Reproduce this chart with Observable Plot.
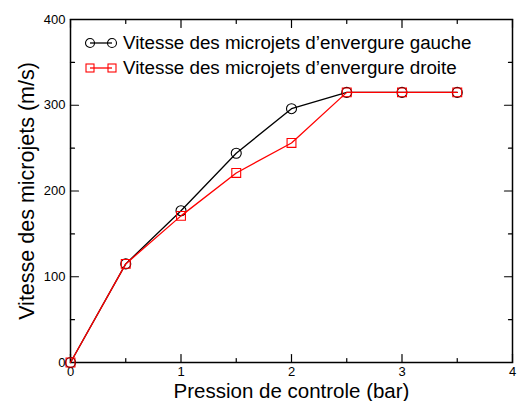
<!DOCTYPE html>
<html>
<head>
<meta charset="utf-8">
<script src="https://cdn.jsdelivr.net/npm/d3@7"></script>
<script src="https://cdn.jsdelivr.net/npm/@observablehq/plot@0.6"></script>
<style>
  body { margin: 0; background: #fff; }
  #wrap { position: relative; width: 520px; height: 401px; font-family: "Liberation Sans", Arial, sans-serif; }
  #legend { position: absolute; left: 84px; top: 30px; font-size: 18.8px; color: #000; }
  .row { display: flex; align-items: center; height: 25px; }
  .row svg { margin-right: 5px; }
</style>
</head>
<body>
<div id="wrap"><div id="legend"></div></div>
<script>
const pressure = [0, 0.5, 1, 1.5, 2, 2.5, 3, 3.5];
const leftSpeed = [0, 115, 177, 244, 296, 315, 315, 315];
const rightSpeed = [0, 115, 171, 221, 256, 315, 315, 315];
const seriesNames = ["Vitesse des microjets d\u2019envergure gauche", "Vitesse des microjets d\u2019envergure droite"];
const seriesColors = ["#000000", "#ff0000"];
const xMajor = [0, 1, 2, 3, 4];
const xMinor = [0.5, 1.5, 2.5, 3.5];
const yMajor = [0, 100, 200, 300, 400];
const yMinor = [50, 150, 250, 350];

const leftData = pressure.map((p, i) => ({x: p, y: leftSpeed[i]}));
const rightData = pressure.map((p, i) => ({x: p, y: rightSpeed[i]}));

const tickShape = { draw(context, l) { context.moveTo(0, 0); context.lineTo(0, -l); } };
const tk = (data, opts) => Plot.vector(data, {shape: tickShape, anchor: "start", stroke: "#000", strokeWidth: 1.2, ...opts});

const chart = Plot.plot({
  width: 520,
  height: 401,
  marginLeft: 70,
  marginRight: 8,
  marginTop: 19,
  marginBottom: 39,
  style: {fontFamily: "Liberation Sans, Arial, sans-serif", background: "#fff"},
  x: {domain: [0, 4]},
  y: {domain: [0, 400]},
  marks: [
    Plot.frame({stroke: "#000", strokeWidth: 1.5}),
    tk(xMajor, {x: d => d, y: 0, length: 8, rotate: 0}),
    tk(xMinor, {x: d => d, y: 0, length: 4, rotate: 0}),
    tk(xMajor, {x: d => d, y: 400, length: 8, rotate: 180}),
    tk(xMinor, {x: d => d, y: 400, length: 4, rotate: 180}),
    tk(yMajor, {x: 0, y: d => d, length: 8, rotate: 90}),
    tk(yMinor, {x: 0, y: d => d, length: 4, rotate: 90}),
    tk(yMajor, {x: 4, y: d => d, length: 8, rotate: -90}),
    tk(yMinor, {x: 4, y: d => d, length: 4, rotate: -90}),
    Plot.axisX({ticks: xMajor, tickSize: 0, tickPadding: 4, fontSize: 13, tickFormat: d3.format("d"),
      label: "Pression de controle (bar)", labelAnchor: "center", labelArrow: "none", labelOffset: 35}),
    Plot.axisY({ticks: yMajor, tickSize: 0, tickPadding: 5, fontSize: 13, tickFormat: d3.format("d"),
      label: "Vitesse des microjets (m/s)", labelAnchor: "center", labelArrow: "none", labelOffset: 52}),
    Plot.line(leftData, {x: "x", y: "y", stroke: seriesColors[0], strokeWidth: 1.3}),
    Plot.dot(leftData, {x: "x", y: "y", r: 5, stroke: seriesColors[0], fill: "none", strokeWidth: 1.1}),
    Plot.line(rightData, {x: "x", y: "y", stroke: seriesColors[1], strokeWidth: 1.3}),
    Plot.dot(rightData, {x: "x", y: "y", r: 5, symbol: "square", stroke: seriesColors[1], fill: "none", strokeWidth: 1.1})
  ]
});
d3.select(chart).selectAll("[aria-label='x-axis label'] text").style("font-size", "20.5px");
d3.select(chart).selectAll("[aria-label='y-axis label'] text").style("font-size", "21.5px");
document.getElementById("wrap").prepend(chart);

const legend = document.getElementById("legend");
seriesNames.forEach((name, i) => {
  const row = document.createElement("div");
  row.className = "row";
  const sw = i === 0
    ? `<svg width="34" height="14"><line x1="6" y1="7" x2="28" y2="7" stroke="${seriesColors[i]}" stroke-width="1.3"/><circle cx="6" cy="7" r="4.5" fill="none" stroke="${seriesColors[i]}" stroke-width="1.1"/><circle cx="28" cy="7" r="4.5" fill="none" stroke="${seriesColors[i]}" stroke-width="1.1"/></svg>`
    : `<svg width="34" height="14"><line x1="6" y1="7" x2="28" y2="7" stroke="${seriesColors[i]}" stroke-width="1.3"/><rect x="2" y="3" width="8" height="8" fill="none" stroke="${seriesColors[i]}" stroke-width="1.1"/><rect x="24" y="3" width="8" height="8" fill="none" stroke="${seriesColors[i]}" stroke-width="1.1"/></svg>`;
  row.innerHTML = sw + `<span>${name}</span>`;
  legend.appendChild(row);
});
</script>
</body>
</html>
